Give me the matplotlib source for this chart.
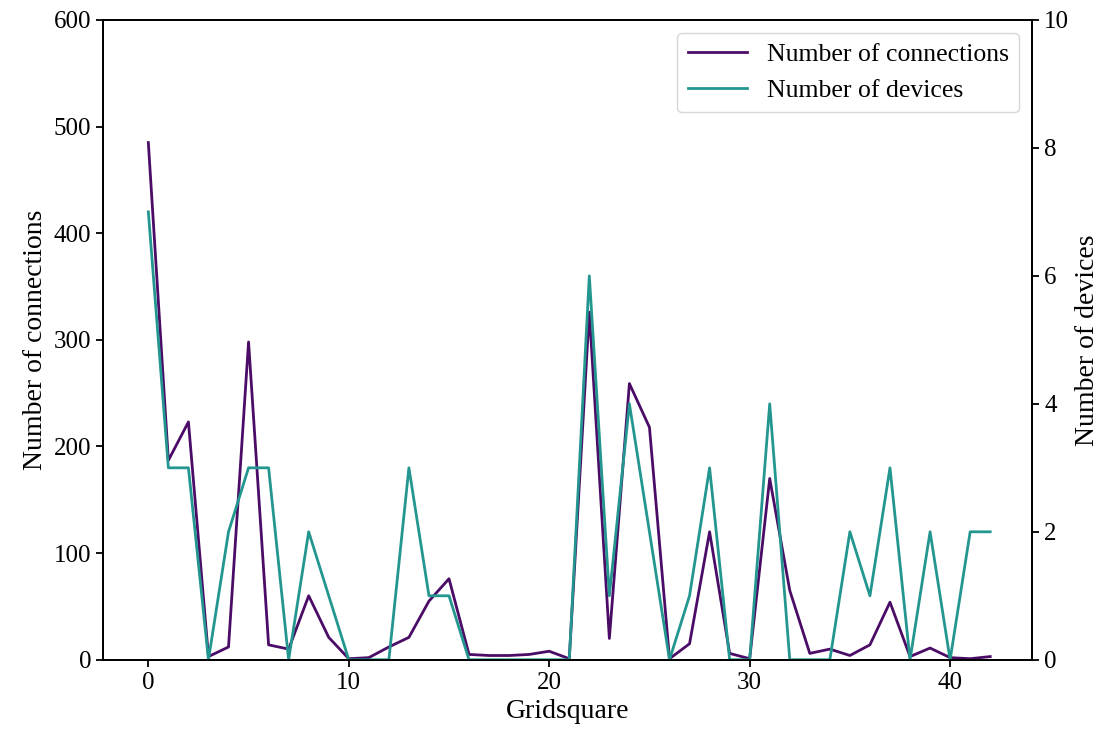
import numpy as np
import matplotlib.pyplot as plt

plt.rcParams['font.family'] = ['Liberation Serif', 'DejaVu Serif']
plt.rcParams['axes.linewidth'] = 1.3

# Values
gridsquare = np.arange(43)
connections = [485, 187, 223, 3, 12, 298, 14, 10, 60, 21,
               1, 2, 12, 21, 55, 76, 5, 4, 4, 5,
               8, 1, 326, 20, 259, 218, 1, 15, 120, 6,
               1, 170, 65, 6, 10, 4, 14, 54, 3, 11,
               2, 1, 3]
devices = [7, 3, 3, 0, 2, 3, 3, 0, 2, 1,
           0, 0, 0, 3, 1, 1, 0, 0, 0, 0,
           0, 0, 6, 1, 4, 2, 0, 1, 3, 0,
           0, 4, 0, 0, 0, 2, 1, 3, 0, 2,
           0, 2, 2]

fig, ax1 = plt.subplots(figsize=(11.1, 7.38), dpi=100)
fig.subplots_adjust(left=0.093, right=0.93, top=0.973, bottom=0.106)

l1, = ax1.plot(gridsquare, connections, color='#4a0c66', lw=2, label='Number of connections')
ax1.set_xlim(-2.25, 44.1)
ax1.set_ylim(0, 600)
ax1.set_xlabel('Gridsquare', fontsize=20)
ax1.set_ylabel('Number of connections', fontsize=20)
ax1.tick_params(labelsize=18, width=1.3, length=5)

ax2 = ax1.twinx()
l2, = ax2.plot(gridsquare, devices, color='#23968f', lw=2, label='Number of devices')
ax2.set_ylim(0, 10)
ax2.set_ylabel('Number of devices', fontsize=20)
ax2.tick_params(labelsize=18, width=1.3, length=5)

ax1.legend(handles=[l1, l2], loc='upper right', fontsize=18.5, handlelength=2.3)

plt.savefig('out.png')
